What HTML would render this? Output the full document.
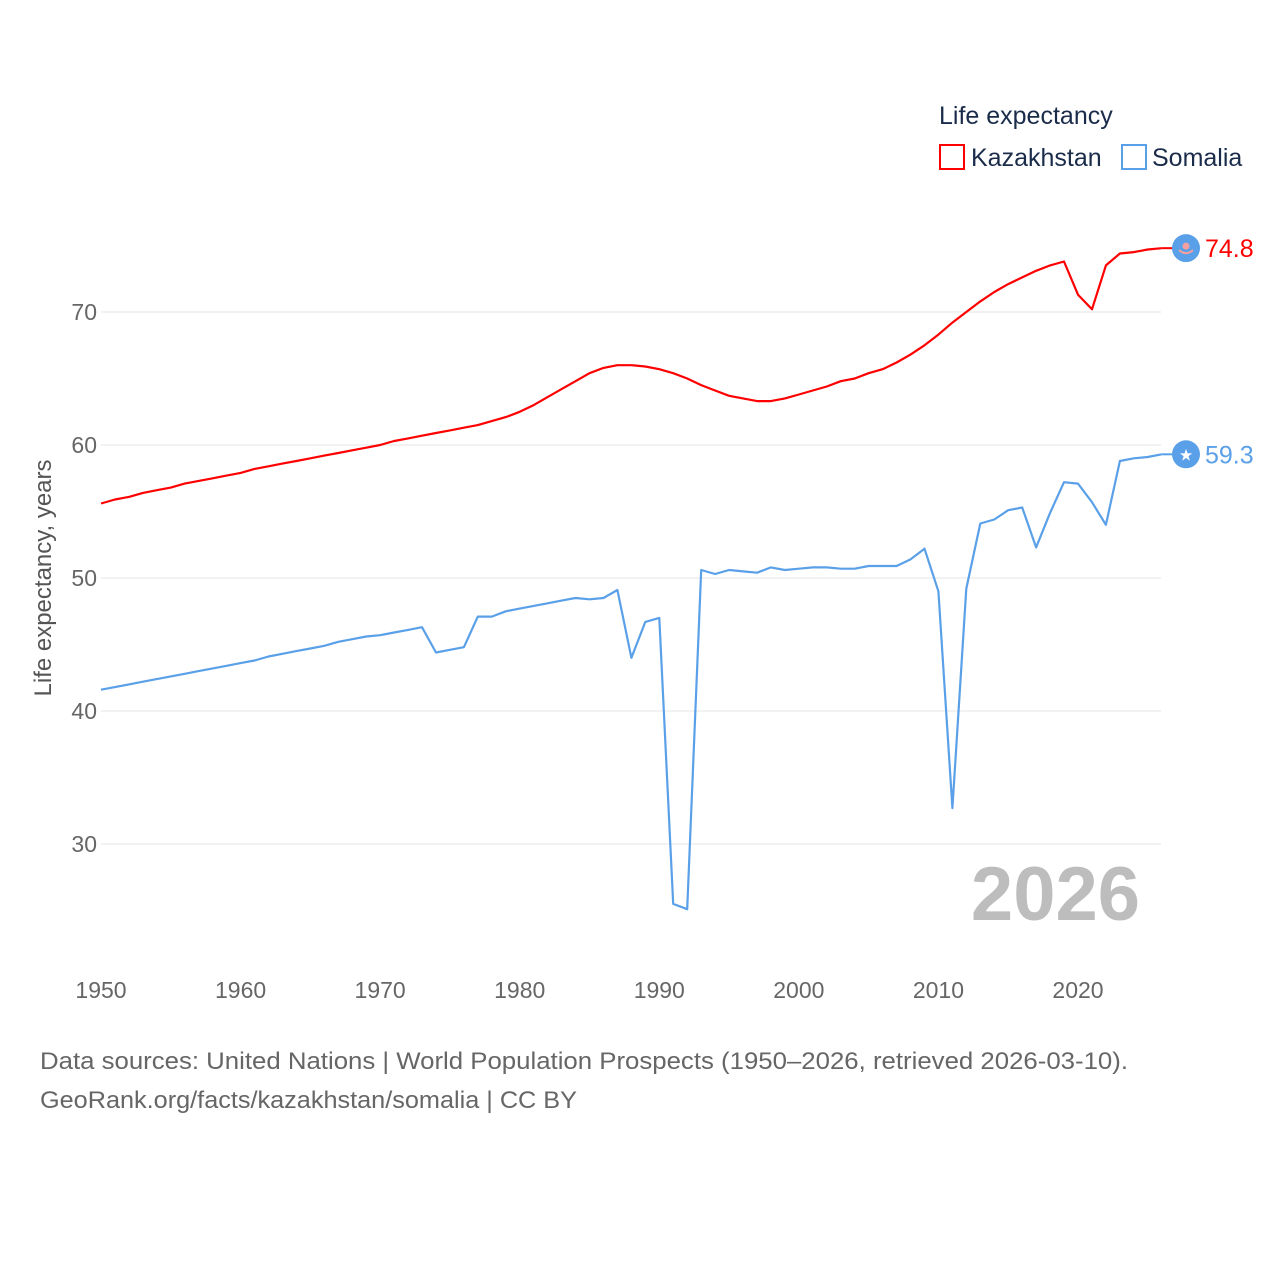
<!DOCTYPE html>
<html><head><meta charset="utf-8">
<style>
body{margin:0;background:#fff;font-family:"Liberation Sans",sans-serif;}
svg text{font-family:"Liberation Sans",sans-serif;}
</style></head>
<body>
<svg id="chart" width="1280" height="1280" xmlns="http://www.w3.org/2000/svg">
<rect width="1280" height="1280" fill="#fff"/>
<g id="grid"></g>
<g id="yticks"></g>
<g id="xticks"></g>
<text transform="translate(51,578) rotate(-90)" text-anchor="middle" font-size="24" fill="#555">Life expectancy, years</text>
<text x="1140" y="920" text-anchor="end" font-size="76" font-weight="bold" fill="#bdbdbd">2026</text>
<g id="series"></g>
<g>
<text x="939" y="124" font-size="25" fill="#1a2c4a">Life expectancy</text>
<rect x="940" y="145" width="24" height="24" fill="none" stroke="#ff0000" stroke-width="2"/>
<text x="971" y="166" font-size="25" fill="#1a2c4a">Kazakhstan</text>
<rect x="1122" y="145" width="24" height="24" fill="none" stroke="#5aa0e8" stroke-width="2"/>
<text x="1152" y="166" font-size="25" fill="#1a2c4a">Somalia</text>
</g>
<text x="40" y="1069" font-size="24" fill="#666" textLength="1088" lengthAdjust="spacingAndGlyphs">Data sources: United Nations | World Population Prospects (1950–2026, retrieved 2026-03-10).</text>
<text x="40" y="1108" font-size="24" fill="#666" textLength="537" lengthAdjust="spacingAndGlyphs">GeoRank.org/facts/kazakhstan/somalia | CC BY</text>
</svg>
<script>
const years = [];
for (let y = 1950; y <= 2026; y++) years.push(y);
const kazakhstan = [55.6,55.9,56.1,56.4,56.6,56.8,57.1,57.3,57.5,57.7,57.9,58.2,58.4,58.6,58.8,59.0,59.2,59.4,59.6,59.8,60.0,60.3,60.5,60.7,60.9,61.1,61.3,61.5,61.8,62.1,62.5,63.0,63.6,64.2,64.8,65.4,65.8,66.0,66.0,65.9,65.7,65.4,65.0,64.5,64.1,63.7,63.5,63.3,63.3,63.5,63.8,64.1,64.4,64.8,65.0,65.4,65.7,66.2,66.8,67.5,68.3,69.2,70.0,70.8,71.5,72.1,72.6,73.1,73.5,73.8,71.3,70.2,73.5,74.4,74.5,74.7,74.8];
const somalia = [41.6,41.8,42.0,42.2,42.4,42.6,42.8,43.0,43.2,43.4,43.6,43.8,44.1,44.3,44.5,44.7,44.9,45.2,45.4,45.6,45.7,45.9,46.1,46.3,44.4,44.6,44.8,47.1,47.1,47.5,47.7,47.9,48.1,48.3,48.5,48.4,48.5,49.1,44.0,46.7,47.0,25.5,25.1,50.6,50.3,50.6,50.5,50.4,50.8,50.6,50.7,50.8,50.8,50.7,50.7,50.9,50.9,50.9,51.4,52.2,49.0,32.7,49.2,54.1,54.4,55.1,55.3,52.3,54.9,57.2,57.1,55.7,54.0,58.8,59.0,59.1,59.3];
const yTicks = [30,40,50,60,70];
const xTicks = [1950,1960,1970,1980,1990,2000,2010,2020];
const endLabels = ["74.8","59.3"];

const NS = "http://www.w3.org/2000/svg";
const xS = v => 101 + (v - 1950) * (977 / 70);
const yS = v => 445 - (v - 60) * 13.3;
function mk(tag, attrs, parent){const e=document.createElementNS(NS,tag);for(const k in attrs)e.setAttribute(k,attrs[k]);parent.appendChild(e);return e;}
const grid=document.getElementById('grid'), yt=document.getElementById('yticks'), xt=document.getElementById('xticks'), ser=document.getElementById('series');
yTicks.forEach(t=>{
  const l=mk('line',{x1:101,x2:1161,y1:yS(t),y2:yS(t),stroke:'#e6e6e6','stroke-width':1},grid);
  
  
  const tx=mk('text',{x:97,y:yS(t)+8,'text-anchor':'end','font-size':23,fill:'#666'},yt);
  tx.textContent=t;
  
  
});
xTicks.forEach(t=>{
  const tx=mk('text',{x:xS(t),y:998,'text-anchor':'middle','font-size':23,fill:'#666'},xt);
  tx.textContent=t;
  
  
});
const series=[{name:'kazakhstan',vals:kazakhstan,color:'#ff0000'},{name:'somalia',vals:somalia,color:'#5aa0e8'}];
series.forEach((s,i)=>{
  const d=s.vals.map((v,j)=>(j?'L':'M')+xS(years[j]).toFixed(1)+','+yS(v).toFixed(1)).join(' ');
  const p=mk('path',{d:d,fill:'none',stroke:s.color,'stroke-width':2.2,'stroke-linejoin':'round'},ser);
  
  
  const last=s.vals[s.vals.length-1], ly=yS(last);
  mk('line',{x1:xS(2026),x2:1174,y1:ly,y2:ly,stroke:s.color,'stroke-width':2},ser);
  const c=mk('circle',{cx:1186,cy:ly,r:14,fill:'#5aa0e8'},ser);
  
  
  if(i===0){mk('circle',{cx:1186,cy:ly-2,r:3.5,fill:'#f4a0a0'},ser);mk('path',{d:`M1179,${ly+2} Q1186,${ly+8} 1193,${ly+2}`,stroke:'#f4a0a0','stroke-width':2,fill:'none'},ser);}
  else{const st=mk('text',{x:1186,y:ly+6,'text-anchor':'middle','font-size':16,fill:'#fff'},ser);st.textContent='★';}
  const lb=mk('text',{x:1205,y:ly+9,'font-size':25,fill:s.color},ser);
  lb.textContent=endLabels[i];
  
  
});
</script>
</body></html>
